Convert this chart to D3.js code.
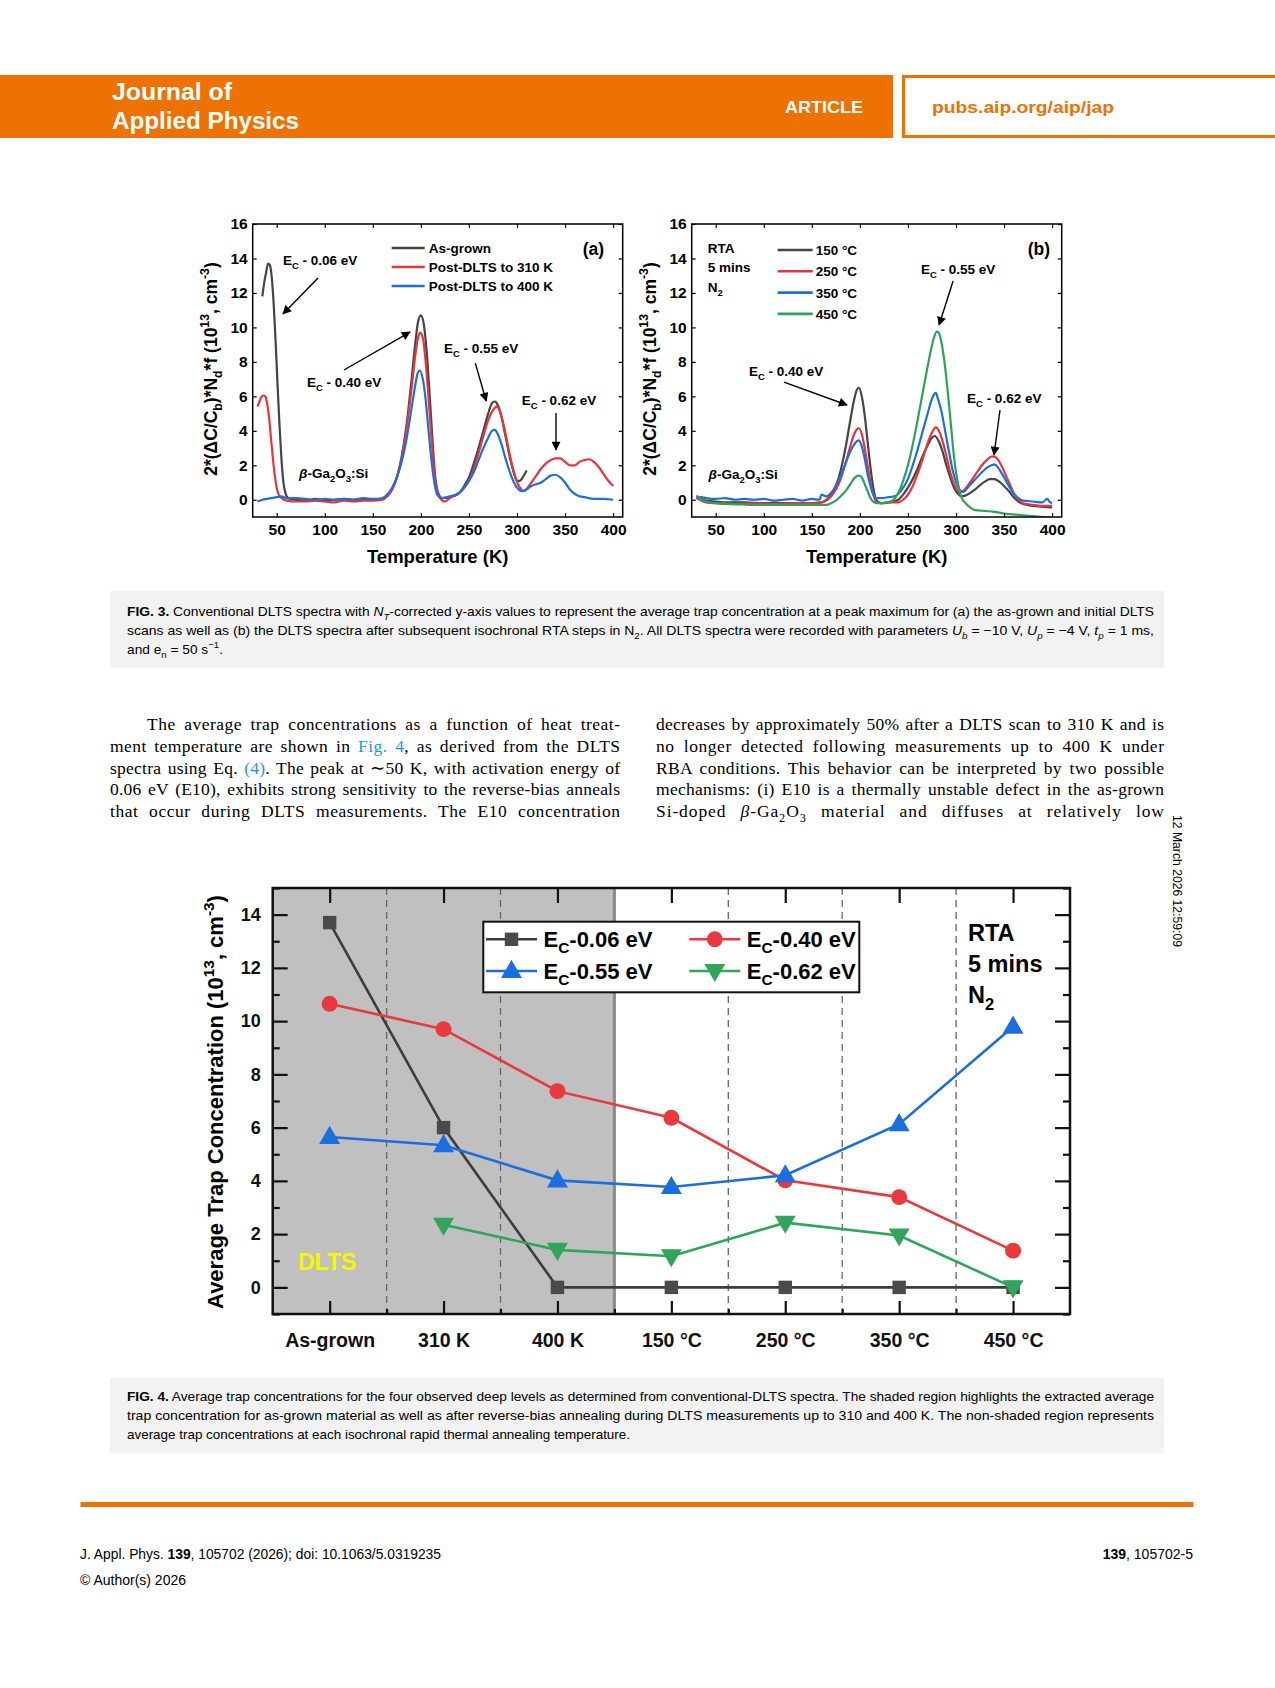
<!DOCTYPE html>
<html><head><meta charset="utf-8">
<script src="https://cdn.jsdelivr.net/npm/d3@7"></script>
<style>html,body{margin:0;padding:0;background:#fff;}svg{display:block;}</style>
</head><body>
<svg id="page" width="1275" height="1688"></svg>
<script>
// ---------------- DATA ----------------
// Fig 3(a): temperature (K) / signal (1e13 cm^-3)
const asGrown = [[35,11.8],[37,12.6],[39,13.2],[41,13.7],[43,13.6],[45,12.8],[47,11.2],[49,9.0],[51,6.5],[53,4.2],[55,2.3],[57,1.0],[59,0.4],[61,0.15],[64,0.05],[70,0.0],[80,-0.05],[90,0.05],[100,-0.05],[110,0.0],[120,0.05],[130,0.0],[140,0.05],[150,0.0],[160,0.05],[165,0.2],[170,0.6],[175,1.3],[180,2.5],[185,4.3],[190,6.8],[194,9.0],[197,10.3],[200,10.7],[203,10.2],[206,8.6],[209,6.2],[212,3.5],[215,1.3],[218,0.4],[222,0.1],[230,0.15],[240,0.4],[245,0.8],[250,1.3],[255,2.1],[260,3.0],[265,4.0],[270,5.0],[274,5.6],[277,5.7],[280,5.5],[284,4.8],[288,3.7],[292,2.6],[296,1.7],[300,1.1],[303,1.1],[306,1.3],[310,1.7]];
const post310 = [[30,5.4],[32,5.7],[34,5.95],[36,6.05],[38,6.0],[40,5.6],[42,4.8],[44,3.6],[46,2.4],[48,1.4],[50,0.7],[52,0.3],[55,0.1],[60,-0.05],[70,-0.1],[80,-0.1],[90,-0.05],[100,-0.1],[110,-0.15],[120,-0.05],[130,-0.1],[140,-0.05],[150,-0.05],[160,0.0],[165,0.2],[170,0.6],[175,1.3],[180,2.4],[185,4.1],[190,6.3],[194,8.3],[197,9.4],[199,9.7],[202,9.4],[205,8.0],[208,5.9],[211,3.6],[214,1.6],[217,0.5],[220,0.1],[225,-0.1],[230,0.1],[240,0.4],[245,0.7],[250,1.1],[255,1.8],[260,2.7],[265,3.7],[270,4.6],[275,5.2],[279,5.4],[283,5.0],[287,4.1],[291,3.0],[295,2.0],[299,1.2],[303,0.7],[307,0.5],[311,0.7],[315,1.0],[320,1.4],[325,1.8],[330,2.1],[335,2.3],[340,2.4],[345,2.4],[350,2.2],[355,2.0],[360,2.0],[365,2.2],[370,2.3],[375,2.35],[380,2.2],[385,1.9],[390,1.5],[395,1.1],[400,0.8]];
const post400 = [[30,-0.1],[35,0.0],[40,0.05],[45,0.1],[50,0.15],[55,0.2],[60,0.1],[70,0.1],[80,0.05],[90,0.0],[100,0.05],[110,0.0],[120,0.05],[130,0.0],[140,0.1],[150,0.05],[160,0.1],[165,0.3],[170,0.7],[175,1.3],[180,2.2],[185,3.5],[190,5.2],[194,6.6],[197,7.4],[199,7.5],[202,7.0],[205,5.8],[208,4.0],[211,2.3],[214,1.0],[217,0.3],[222,0.1],[230,0.2],[240,0.4],[245,0.7],[250,1.1],[255,1.6],[260,2.3],[265,3.0],[270,3.6],[274,4.0],[277,4.05],[280,3.8],[284,3.2],[288,2.4],[292,1.7],[296,1.1],[300,0.7],[305,0.5],[310,0.6],[315,0.8],[320,0.9],[325,1.0],[330,1.2],[335,1.4],[340,1.45],[345,1.3],[350,1.0],[355,0.6],[360,0.35],[365,0.2],[370,0.15],[380,0.05],[390,0.05],[400,0.0]];
// Fig 3(b)
const rta150 = [[30,0.2],[35,0.05],[40,-0.05],[50,-0.1],[60,-0.15],[80,-0.15],[100,-0.2],[120,-0.2],[140,-0.2],[160,-0.15],[165,0.0],[170,0.3],[175,0.8],[180,1.7],[185,3.0],[190,4.6],[194,5.8],[197,6.4],[199,6.5],[202,6.0],[205,4.9],[208,3.4],[211,1.9],[214,0.7],[217,0.0],[222,-0.2],[230,-0.15],[240,0.0],[245,0.3],[250,0.7],[255,1.2],[260,1.8],[265,2.5],[270,3.1],[275,3.6],[278,3.7],[282,3.4],[286,2.8],[290,2.0],[294,1.3],[298,0.7],[302,0.35],[306,0.2],[310,0.25],[315,0.4],[320,0.6],[325,0.85],[330,1.05],[335,1.2],[340,1.2],[345,1.05],[350,0.8],[355,0.5],[360,0.15],[365,-0.1],[370,-0.25],[380,-0.35],[390,-0.4],[400,-0.45]];
const rta250 = [[30,0.1],[35,-0.05],[40,-0.15],[50,-0.2],[70,-0.25],[90,-0.2],[110,-0.25],[130,-0.2],[150,-0.2],[160,-0.15],[165,-0.05],[170,0.2],[175,0.6],[180,1.2],[185,2.1],[190,3.1],[194,3.8],[197,4.1],[199,4.15],[202,3.8],[205,3.0],[208,2.0],[211,1.0],[214,0.3],[217,-0.1],[222,-0.2],[230,-0.15],[240,-0.15],[245,0.0],[250,0.3],[255,0.8],[260,1.5],[265,2.3],[270,3.2],[275,3.9],[279,4.2],[283,3.9],[287,3.2],[291,2.3],[295,1.4],[299,0.8],[303,0.45],[307,0.5],[312,0.8],[317,1.2],[322,1.6],[327,2.0],[332,2.3],[337,2.5],[340,2.5],[344,2.3],[348,1.9],[352,1.4],[356,0.9],[360,0.4],[365,0.0],[370,-0.2],[380,-0.3],[390,-0.35],[400,-0.35]];
const rta350 = [[30,0.1],[35,0.15],[40,0.1],[50,0.05],[60,0.1],[70,0.0],[80,0.05],[90,0.0],[100,0.05],[110,-0.05],[120,0.0],[130,0.05],[140,-0.05],[150,0.05],[158,0.0],[160,0.3],[165,0.2],[170,0.4],[175,0.8],[180,1.4],[185,2.1],[190,2.8],[194,3.2],[197,3.4],[199,3.45],[202,3.1],[205,2.4],[208,1.5],[211,0.8],[214,0.3],[217,0.1],[222,0.1],[230,0.15],[236,0.2],[240,0.35],[245,0.7],[250,1.2],[255,2.0],[260,2.9],[265,3.9],[270,4.9],[274,5.7],[277,6.1],[279,6.2],[281,5.9],[285,5.1],[289,3.9],[293,2.7],[297,1.6],[301,0.9],[305,0.5],[308,0.45],[312,0.7],[317,1.0],[322,1.3],[327,1.6],[332,1.85],[337,2.0],[340,2.05],[344,1.85],[348,1.5],[352,1.1],[356,0.7],[360,0.35],[365,0.1],[370,-0.05],[380,-0.1],[390,-0.15],[395,0.05],[397,-0.1],[400,-0.2]];
const rta450 = [[30,0.25],[35,0.0],[40,-0.1],[50,-0.2],[70,-0.25],[90,-0.3],[110,-0.3],[130,-0.3],[150,-0.3],[165,-0.3],[170,-0.2],[175,-0.05],[180,0.2],[185,0.5],[190,0.9],[195,1.3],[199,1.4],[202,1.3],[205,0.9],[208,0.5],[211,0.1],[215,-0.15],[220,-0.2],[228,-0.15],[235,0.0],[240,0.4],[245,1.1],[250,2.0],[255,3.2],[260,4.6],[265,6.1],[270,7.6],[274,8.7],[277,9.4],[280,9.75],[282,9.7],[285,9.1],[288,8.0],[291,6.5],[294,4.8],[297,3.0],[300,1.6],[303,0.7],[306,0.1],[310,-0.2],[315,-0.45],[320,-0.6],[330,-0.65],[340,-0.7],[350,-0.8],[360,-0.85],[370,-0.9],[380,-0.95],[390,-1.0],[400,-1.05]];
const tempTicks = [50,100,150,200,250,300,350,400];
const signalTicks = [0,2,4,6,8,10,12,14,16];

// Fig 4
const categories = ["As-grown","310 K","400 K","150 °C","250 °C","350 °C","450 °C"];
const e006 = [13.7, 6.0, 0, 0, 0, 0, 0];
const e040 = [10.65, 9.7, 7.37, 6.37, 4.02, 3.39, 1.38];
const e055 = [5.65, 5.34, 4.02, 3.77, 4.21, 6.13, 9.79];
const e062 = [null, 2.35, 1.41, 1.17, 2.43, 1.95, 0.0];
const concTicks = [0,2,4,6,8,10,12,14];

// ---------------- HELPERS ----------------
const SANS = "'Liberation Sans', Arial, Helvetica, sans-serif";
const SERIF = "'Liberation Serif', 'Times New Roman', serif";
const svg = d3.select("#page");

function rich(g, x, y, parts, fs, opt) {
  opt = opt || {};
  const t = g.append("text").attr("x", x).attr("y", y)
    .attr("font-size", fs).attr("font-family", opt.family || SANS)
    .attr("font-weight", opt.weight || "normal")
    .attr("fill", opt.fill || "#000");
  if (opt.anchor) t.attr("text-anchor", opt.anchor);
  if (opt.transform) t.attr("transform", opt.transform);
  let shift = 0;
  parts.forEach(p => {
    const s = typeof p === "string" ? p : p[0];
    const k = typeof p === "string" ? "" : p[1];
    const ts = t.append("tspan").text(s);
    let target = 0;
    if (k.includes("sub")) { target = 0.28 * fs; ts.attr("font-size", fs * 0.7); }
    else if (k.includes("sup")) { target = -0.42 * fs; ts.attr("font-size", fs * 0.7); }
    if (k.includes("i")) ts.attr("font-style", "italic");
    if (k === "b") ts.attr("font-weight", "bold");
    if (k.includes("blue")) ts.attr("fill", "#1a9ad6");
    const dy = target - shift;
    if (dy) ts.attr("dy", dy);
    shift = target;
  });
  if (opt.len) t.attr("textLength", opt.len).attr("lengthAdjust", opt.adjust || "spacingAndGlyphs");
  if (opt.justify) {
    const nat = t.node().getComputedTextLength();
    const str = parts.map(p => typeof p === "string" ? p : p[0]).join("");
    const spaces = (str.match(/ /g) || []).length;
    const extra = opt.justify - nat;
    const ls = Math.max(0, Math.min(0.9, extra * 0.45 / (str.length - 1)));
    t.attr("letter-spacing", ls);
    const rem = extra - ls * (str.length - 1);
    if (spaces > 0) t.attr("word-spacing", rem / spaces);
  }
  return t;
}

// arrow marker
const defs = svg.append("defs");
defs.append("marker").attr("id", "arr").attr("markerUnits", "userSpaceOnUse")
  .attr("viewBox", "0 0 10 10").attr("refX", 9).attr("refY", 5)
  .attr("markerWidth", 11).attr("markerHeight", 9).attr("orient", "auto")
  .append("path").attr("d", "M0,0 L10,5 L0,10 Z").attr("fill", "#000");

// ---------------- HEADER ----------------
svg.append("rect").attr("x", 0).attr("y", 75).attr("width", 893).attr("height", 63).attr("fill", "#ee7203");
svg.append("rect").attr("x", 903.5).attr("y", 76.5).attr("width", 380).attr("height", 60).attr("fill", "#fff")
  .attr("stroke", "#ee7203").attr("stroke-width", 3);
rich(svg, 112, 100, ["Journal of"], 23, {weight: "bold", fill: "#fff", len: 120});
rich(svg, 112, 129, ["Applied Physics"], 23, {weight: "bold", fill: "#fff", len: 187});
rich(svg, 785, 113, ["ARTICLE"], 17, {weight: "bold", fill: "#fff", len: 78});
rich(svg, 932, 113, ["pubs.aip.org/aip/jap"], 17, {weight: "bold", fill: "#ee7203", len: 182});

// ---------------- FIG 3 PANELS ----------------
function panel(left, series, labelTag, annotations, legendFn) {
  const top = 224, W = 370, H = 293;
  const x = d3.scaleLinear().domain([25, 410]).range([left, left + W]);
  const y = d3.scaleLinear().domain([-1, 16]).range([top + H, top]);
  const g = svg.append("g");
  const cid = "clip" + labelTag;
  defs.append("clipPath").attr("id", cid).append("rect").attr("x", left).attr("y", top).attr("width", W).attr("height", H);

  const line = d3.line().x(d => x(d[0])).y(d => y(d[1])).curve(d3.curveMonotoneX);
  const lg = g.append("g").attr("clip-path", `url(#${cid})`);
  series.forEach(s => {
    lg.append("path").datum(s.data).attr("d", line).attr("fill", "none")
      .attr("stroke", s.color).attr("stroke-width", 2.2).attr("stroke-linejoin", "round");
  });
  // axes
  g.append("g").attr("transform", `translate(0,${top + H})`)
    .call(d3.axisBottom(x).tickValues(tempTicks).tickSize(-4).tickPadding(7));
  g.append("g").attr("transform", `translate(${left},0)`)
    .call(d3.axisLeft(y).tickValues(signalTicks).tickSize(-4).tickPadding(5));
  g.append("g").attr("transform", `translate(0,${top})`)
    .call(d3.axisTop(x).tickValues(tempTicks).tickSize(-4).tickFormat(""));
  g.append("g").attr("transform", `translate(${left + W},0)`)
    .call(d3.axisRight(y).tickValues(signalTicks).tickSize(-4).tickFormat(""));
  g.selectAll(".domain").remove();
  g.selectAll(".tick line").attr("stroke", "#000").attr("stroke-width", 1.2);
  g.selectAll(".tick text").attr("font-family", SANS).attr("font-weight", "bold").attr("font-size", 15.5).attr("fill", "#000");
  g.append("rect").attr("x", left).attr("y", top).attr("width", W).attr("height", H)
    .attr("fill", "none").attr("stroke", "#000").attr("stroke-width", 1.5);

  rich(g, left + W / 2, 563, ["Temperature (K)"], 18.5, {weight: "bold", anchor: "middle"});
  const yl = left - 36;
  rich(g, 0, 0, ["2*(ΔC/C", ["b", "sub"], ")*N", ["d", "sub"], "*f (10", ["13", "sup"], ", cm", ["-3", "sup"], ")"], 17.5,
    {weight: "bold", anchor: "middle", transform: `translate(${yl},369) rotate(-90)`});

  annotations.forEach(a => {
    if (a.arrow) {
      g.append("line").attr("x1", x(a.arrow[0])).attr("y1", y(a.arrow[1]))
        .attr("x2", x(a.arrow[2])).attr("y2", y(a.arrow[3]))
        .attr("stroke", "#000").attr("stroke-width", 1.4).attr("marker-end", "url(#arr)");
    }
    if (a.text) rich(g, x(a.at[0]), y(a.at[1]), a.text, 13.5, {weight: "bold"});
  });
  legendFn(g, left, top);
}

const ec = v => ["E", ["C", "sub"], " - " + v + " eV"];
const gaTxt = [["β", "i"], "-Ga", ["2", "sub"], "O", ["3", "sub"], ":Si"];

panel(252.7, [
  {data: asGrown, color: "#454545"},
  {data: post310, color: "#e8343a"},
  {data: post400, color: "#1d6fdd"}
], "a", [
  {text: ec("0.06"), at: [56.5, 13.6], arrow: [93, 12.87, 56.5, 10.78]},
  {text: ec("0.40"), at: [81.5, 6.54], arrow: [120, 7.53, 188.7, 9.73]},
  {text: ec("0.55"), at: [224, 8.52], arrow: [256.6, 7.93, 268, 5.73]},
  {text: ec("0.62"), at: [305, 5.5], arrow: [340.6, 5.03, 340.6, 2.89]},
  {text: gaTxt, at: [73.3, 1.26]}
], (g, left, top) => {
  const items = [["As-grown", "#454545"], ["Post-DLTS to 310 K", "#e8343a"], ["Post-DLTS to 400 K", "#1d6fdd"]];
  items.forEach((it, i) => {
    const yy = 248 + i * 19;
    g.append("line").attr("x1", left + 139).attr("x2", left + 172).attr("y1", yy).attr("y2", yy)
      .attr("stroke", it[1]).attr("stroke-width", 2.6);
    rich(g, left + 176, yy + 5, [it[0]], 13.5, {weight: "bold"});
  });
  rich(g, left + 330, 255, ["(a)"], 17.5, {weight: "bold"});
});

panel(691.7, [
  {data: rta150, color: "#454545"},
  {data: rta250, color: "#e8343a"},
  {data: rta350, color: "#1d6fdd"},
  {data: rta450, color: "#2da35a"}
], "b", [
  {text: ec("0.55"), at: [263.5, 13.1], arrow: [297, 12.69, 282.4, 10.14]},
  {text: ec("0.40"), at: [84.6, 7.18], arrow: [121, 6.83, 186.6, 5.5]},
  {text: ec("0.62"), at: [311.5, 5.63], arrow: [345.8, 5.21, 339.6, 2.6]},
  {text: gaTxt, at: [42.6, 1.2]}
], (g, left, top) => {
  const items = [["150 °C", "#454545"], ["250 °C", "#e8343a"], ["350 °C", "#1d6fdd"], ["450 °C", "#2da35a"]];
  items.forEach((it, i) => {
    const yy = 250 + i * 21.3;
    g.append("line").attr("x1", left + 86).attr("x2", left + 121).attr("y1", yy).attr("y2", yy)
      .attr("stroke", it[1]).attr("stroke-width", 2.6);
    rich(g, left + 124, yy + 5, [it[0]], 13.5, {weight: "bold"});
  });
  rich(g, left + 16, 253, ["RTA"], 13.5, {weight: "bold"});
  rich(g, left + 16, 272, ["5 mins"], 13.5, {weight: "bold"});
  rich(g, left + 16, 292, ["N", ["2", "sub"]], 13.5, {weight: "bold"});
  rich(g, left + 336, 255, ["(b)"], 17.5, {weight: "bold"});
});

// ---------------- CAPTION FIG 3 ----------------
svg.append("rect").attr("x", 110).attr("y", 591).attr("width", 1054).attr("height", 77).attr("fill", "#f1f2f1");
rich(svg, 127, 616, [["FIG. 3.", "b"], " Conventional DLTS spectra with ", ["N", "i"], ["T", "isub"], "-corrected y-axis values to represent the average trap concentration at a peak maximum for (a) the as-grown and initial DLTS"], 13.5, {len: 1027});
rich(svg, 127, 635, ["scans as well as (b) the DLTS spectra after subsequent isochronal RTA steps in N", ["2", "sub"], ". All DLTS spectra were recorded with parameters ", ["U", "i"], ["b", "isub"], " = −10 V, ", ["U", "i"], ["p", "isub"], " = −4 V, ", ["t", "i"], ["p", "isub"], " = 1 ms,"], 13.5, {len: 1027});
rich(svg, 127, 654, ["and e", ["n", "sub"], " = 50 s", ["−1", "sup"], "."], 13.5, {len: 96});

// ---------------- BODY TEXT ----------------
const bodyFs = 17.5;
const leftLines = [
  {x: 147, parts: ["The average trap concentrations as a function of heat treat-"]},
  {x: 110, parts: ["ment temperature are shown in ", ["Fig. 4", "blue"], ", as derived from the DLTS"]},
  {x: 110, parts: ["spectra using Eq. ", ["(4)", "blue"], ". The peak at ∼50 K, with activation energy of"]},
  {x: 110, parts: ["0.06 eV (E10), exhibits strong sensitivity to the reverse-bias anneals"]},
  {x: 110, parts: ["that occur during DLTS measurements. The E10 concentration"]}
];
const rightLines = [
  ["decreases by approximately 50% after a DLTS scan to 310 K and is"],
  ["no longer detected following measurements up to 400 K under"],
  ["RBA conditions. This behavior can be interpreted by two possible"],
  ["mechanisms: (i) E10 is a thermally unstable defect in the as-grown"],
  ["Si-doped ", ["β", "i"], "-Ga", ["2", "sub"], "O", ["3", "sub"], " material and diffuses at relatively low"]
];
const bodyY = [730, 752, 774, 795, 817];
leftLines.forEach((l, i) => rich(svg, l.x, bodyY[i], l.parts, bodyFs, {family: SERIF, justify: 620 - l.x}));
rightLines.forEach((l, i) => rich(svg, 656, bodyY[i], l, bodyFs, {family: SERIF, justify: 508}));

// timestamp
rich(svg, 0, 0, ["12 March 2026 12:59:09"], 12, {transform: "translate(1173,815) rotate(90)", len: 132});

// ---------------- FIG 4 ----------------
(function () {
  const L = 272.7, R = 1070, T = 888, B = 1314;
  const x = d3.scaleLinear().domain([-0.5, 6.5]).range([L, R]);
  const y = d3.scaleLinear().domain([-1, 15]).range([B, T]);
  const g = svg.append("g");
  const idx = d3.range(categories.length);
  // shaded DLTS region
  g.append("rect").attr("x", x(-0.5)).attr("y", T).attr("width", x(2.5) - x(-0.5)).attr("height", B - T).attr("fill", "#c0c0c0");
  // separators
  [0.5, 1.5, 3.5, 4.5, 5.5].forEach(v => {
    g.append("line").attr("x1", x(v)).attr("x2", x(v)).attr("y1", T).attr("y2", B)
      .attr("stroke", "#666").attr("stroke-width", 1.3).attr("stroke-dasharray", "7,5");
  });
  g.append("line").attr("x1", x(2.5)).attr("x2", x(2.5)).attr("y1", T).attr("y2", B)
    .attr("stroke", "#8a8a8a").attr("stroke-width", 3);

  // axes ticks
  const minorY = d3.range(-1, 16, 1).filter(v => v % 2 !== 0);
  const axG = g.append("g");
  const yLab = axG.append("g").attr("transform", `translate(${L},0)`)
    .call(d3.axisLeft(y).tickValues(concTicks).tickSize(-15).tickPadding(12));
  axG.append("g").attr("transform", `translate(${L},0)`)
    .call(d3.axisLeft(y).tickValues(minorY).tickSize(-7).tickFormat(""));
  axG.append("g").attr("transform", `translate(${R},0)`)
    .call(d3.axisRight(y).tickValues(concTicks).tickSize(-15).tickFormat(""));
  axG.append("g").attr("transform", `translate(${R},0)`)
    .call(d3.axisRight(y).tickValues(minorY).tickSize(-7).tickFormat(""));
  const xLab = axG.append("g").attr("transform", `translate(0,${B})`)
    .call(d3.axisBottom(x).tickValues(idx).tickSize(-13).tickPadding(19).tickFormat(i => categories[i]));
  axG.append("g").attr("transform", `translate(0,${B})`)
    .call(d3.axisBottom(x).tickValues([0.5, 1.5, 2.5, 3.5, 4.5, 5.5]).tickSize(-5).tickFormat(""));
  axG.append("g").attr("transform", `translate(0,${T})`)
    .call(d3.axisTop(x).tickValues(idx).tickSize(-15).tickFormat(""));
  axG.selectAll(".domain").remove();
  axG.selectAll(".tick line").attr("stroke", "#111").attr("stroke-width", 2.2);
  axG.selectAll(".tick text").attr("font-family", SANS).attr("font-weight", "bold").attr("fill", "#111");
  yLab.selectAll(".tick text").attr("font-size", 18);
  xLab.selectAll(".tick text").attr("font-size", 19.5);

  // DLTS label
  rich(g, 298, 1270, ["DLTS"], 23, {weight: "bold", fill: "#f7f700"});

  const sets = [
    {data: e006, color: "#3d3d3d", mfill: "#4a4a4a", shape: d3.symbolSquare, size: 180, name: "0.06"},
    {data: e040, color: "#e8393e", mfill: "#e8393e", shape: d3.symbolCircle, size: 200, name: "0.40"},
    {data: e055, color: "#1b6ee0", mfill: "#1b6ee0", shape: d3.symbolTriangle, size: 190, name: "0.55", rot: 0},
    {data: e062, color: "#2fa65a", mfill: "#2fa65a", shape: d3.symbolTriangle, size: 190, name: "0.62", rot: 180}
  ];
  const line = d3.line().defined(d => d[1] !== null).x(d => x(d[0])).y(d => y(d[1]));
  sets.forEach(s => {
    const pts = s.data.map((v, i) => [i, v]);
    g.append("path").datum(pts).attr("d", line).attr("fill", "none")
      .attr("stroke", s.color).attr("stroke-width", 2.6);
  });
  sets.forEach(s => {
    const pts = s.data.map((v, i) => [i, v]).filter(d => d[1] !== null);
    g.selectAll(null).data(pts).enter().append("path")
      .attr("d", d3.symbol().type(s.shape).size(s.size))
      .attr("transform", d => `translate(${x(d[0])},${y(d[1]) + (s.rot === 180 ? -1 : s.rot === 0 ? 1 : 0)}) rotate(${s.rot || 0})`)
      .attr("fill", s.mfill);
  });

  // frame
  g.append("rect").attr("x", L).attr("y", T).attr("width", R - L).attr("height", B - T)
    .attr("fill", "none").attr("stroke", "#111").attr("stroke-width", 2.5);

  // legend
  const lg = g.append("g");
  lg.append("rect").attr("x", 483.3).attr("y", 921.7).attr("width", 376).attr("height", 70.6)
    .attr("fill", "#fff").attr("stroke", "#111").attr("stroke-width", 2);
  const legPos = [[486, 939.3], [689.3, 939.3], [486, 971], [689.3, 971]];
  sets.forEach((s, i) => {
    const [lx, ly] = legPos[i];
    lg.append("line").attr("x1", lx).attr("x2", lx + 51).attr("y1", ly).attr("y2", ly)
      .attr("stroke", s.color).attr("stroke-width", 2.6);
    lg.append("path").attr("d", d3.symbol().type(s.shape).size(s.size))
      .attr("transform", `translate(${lx + 25.5},${ly + (s.rot === 180 ? -1 : s.rot === 0 ? 1 : 0)}) rotate(${s.rot || 0})`)
      .attr("fill", s.mfill);
    rich(lg, lx + 57.5, ly + 8, ["E", ["C", "sub"], "-" + s.name + " eV"], 22, {weight: "bold"});
  });

  rich(g, 968, 941, ["RTA"], 23.5, {weight: "bold"});
  rich(g, 968, 972, ["5 mins"], 23.5, {weight: "bold"});
  rich(g, 968, 1003, ["N", ["2", "sub"]], 23.5, {weight: "bold"});

  rich(g, 0, 0, ["Average Trap Concentration (10", ["13", "sup"], ", cm", ["-3", "sup"], ")"], 22,
    {weight: "bold", anchor: "middle", transform: "translate(223,1102) rotate(-90)"});
})();

// ---------------- CAPTION FIG 4 ----------------
svg.append("rect").attr("x", 110).attr("y", 1378).attr("width", 1054).attr("height", 75).attr("fill", "#f1f2f1");
rich(svg, 127, 1401, [["FIG. 4.", "b"], " Average trap concentrations for the four observed deep levels as determined from conventional-DLTS spectra. The shaded region highlights the extracted average"], 13.5, {len: 1027});
rich(svg, 127, 1420, ["trap concentration for as-grown material as well as after reverse-bias annealing during DLTS measurements up to 310 and 400 K. The non-shaded region represents"], 13.5, {len: 1027});
rich(svg, 127, 1439, ["average trap concentrations at each isochronal rapid thermal annealing temperature."], 13.5, {len: 503});

// ---------------- FOOTER ----------------
svg.append("rect").attr("x", 80.5).attr("y", 1502).attr("width", 1113).attr("height", 5).attr("fill", "#ee7203");
rich(svg, 80, 1559, ["J. Appl. Phys. ", ["139", "b"], ", 105702 (2026); doi: 10.1063/5.0319235"], 14, {len: 361});
rich(svg, 1193, 1559, [["139", "b"], ", 105702-5"], 14, {anchor: "end"});
rich(svg, 80, 1585, ["© Author(s) 2026"], 14, {len: 106});
</script>
</body></html>
